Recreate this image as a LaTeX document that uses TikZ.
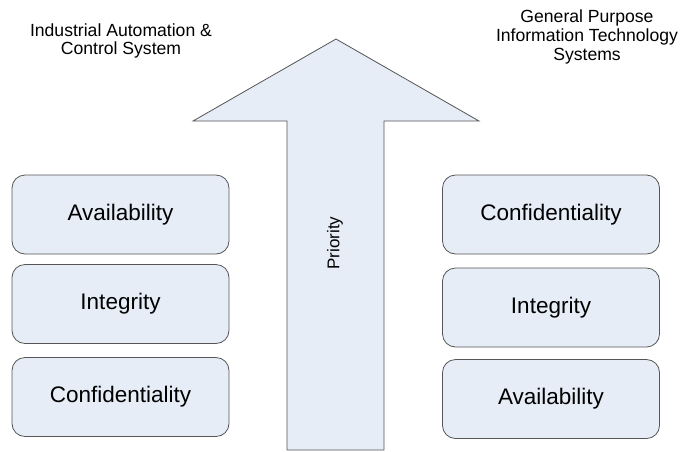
\documentclass[tikz,border=0pt]{standalone}
\usepackage{fontspec}
\setmainfont{Liberation Sans}
\definecolor{boxfill}{RGB}{230,237,247}
\definecolor{boxline}{RGB}{85,85,85}
\tikzset{
  goalbox/.style={draw=boxline, fill=boxfill, rounded corners=13pt, thick,
    minimum width=217pt, minimum height=79pt, inner sep=0pt,
    font=\fontsize{22.5}{25}\selectfont},
  headtext/.style={align=center, font=\fontsize{17.6}{18.6}\selectfont}
}
\begin{document}
\begin{tikzpicture}[x=1pt,y=-1pt]
    \useasboundingbox (0,0) rectangle (692,451);

%   priority arrow
    \draw[boxline, thick, fill=boxfill] (287,450) -- (287,121) -- (193,121) -- (336,39)
        -- (479,121) -- (384,121) -- (384,450) -- cycle;
    \node[rotate=90, font=\fontsize{17}{20}\selectfont] (prio) at (335,243) {Priority};

%   industrial side
    \node[headtext] (iacs) at (121,41) {Industrial Automation \&\\Control System};
    \node[goalbox] (lavail) at (120.5,214.5) {Availability};
    \node[goalbox] (linteg) at (120.5,304) {Integrity};
    \node[goalbox] (lconf) at (120.5,397) {Confidentiality};

%   IT side
    \node[headtext] (gpit) at (587,37) {General Purpose\\Information Technology\\Systems};
    \node[goalbox] (rconf) at (551,214.5) {Confidentiality};
    \node[goalbox] (rinteg) at (551,307.5) {Integrity};
    \node[goalbox] (ravail) at (551,399) {Availability};

\end{tikzpicture}
\end{document}
